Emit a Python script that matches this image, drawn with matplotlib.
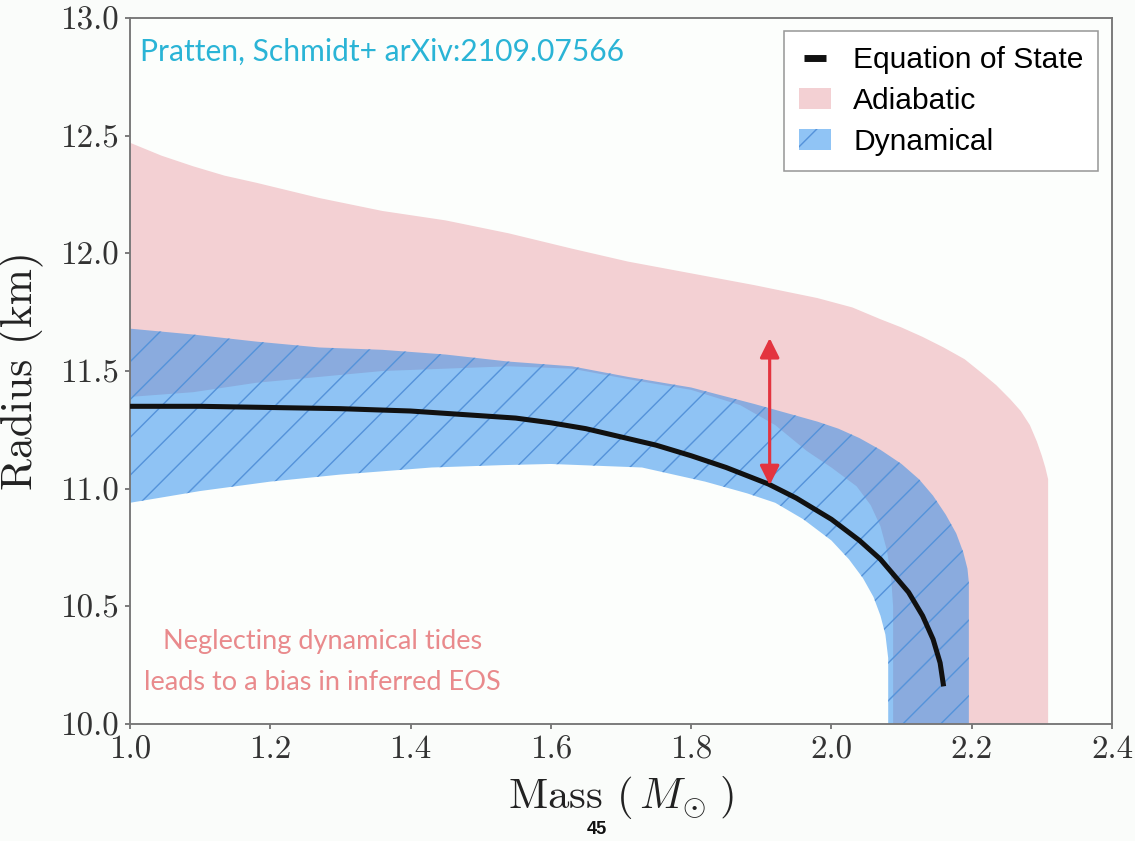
import matplotlib
matplotlib.use("Agg")
import matplotlib.pyplot as plt
from matplotlib.lines import Line2D

plt.rcParams['mathtext.fontset'] = 'cm'
plt.rcParams['axes.formatter.use_mathtext'] = True
plt.rcParams['hatch.linewidth'] = 0.45

# adiabatic band: outer (upper/right) edge and inner (lower/left) edge
adi_out_m = [1.0, 1.045, 1.09, 1.135, 1.18, 1.27, 1.36, 1.45, 1.54, 1.63, 1.71, 1.80, 1.89, 1.98,
             2.03, 2.07, 2.10, 2.13, 2.16, 2.19, 2.215, 2.235, 2.255, 2.27, 2.283, 2.293,
             2.30, 2.305, 2.309, 2.309]
adi_out_r = [12.47, 12.415, 12.37, 12.33, 12.30, 12.235, 12.18, 12.14, 12.085, 12.02, 11.965, 11.915,
             11.865, 11.81, 11.77, 11.72, 11.685, 11.645, 11.60, 11.55, 11.49, 11.44, 11.38, 11.33,
             11.27, 11.20, 11.14, 11.09, 11.04, 9.9]
adi_in_m = [1.0, 1.09, 1.18, 1.27, 1.36, 1.45, 1.54, 1.63, 1.72, 1.80, 1.87, 1.92,
            1.965, 2.0, 2.036, 2.056, 2.07, 2.079, 2.085, 2.088, 2.088]
adi_in_r = [11.39, 11.41, 11.45, 11.475, 11.50, 11.51, 11.52, 11.51, 11.46, 11.42, 11.355, 11.27,
            11.16, 11.09, 11.01, 10.93, 10.84, 10.74, 10.63, 10.50, 9.9]

# dynamical band
dyn_out_m = [1.0, 1.09, 1.18, 1.27, 1.36, 1.45, 1.54, 1.63, 1.71, 1.80, 1.89, 1.98,
             2.01, 2.04, 2.07, 2.10, 2.125, 2.145, 2.163, 2.178, 2.188, 2.194, 2.196, 2.196]
dyn_out_r = [11.68, 11.655, 11.625, 11.60, 11.59, 11.57, 11.54, 11.52, 11.475, 11.43, 11.36, 11.285,
             11.255, 11.215, 11.165, 11.105, 11.04, 10.97, 10.89, 10.81, 10.73, 10.66, 10.60, 9.9]
dyn_in_m = [1.0, 1.1, 1.2, 1.3, 1.43, 1.53, 1.6, 1.73, 1.82, 1.88, 1.92, 1.96, 2.0, 2.025,
            2.045, 2.06, 2.07, 2.077, 2.081, 2.081]
dyn_in_r = [10.94, 10.99, 11.03, 11.06, 11.09, 11.10, 11.105, 11.09, 11.03, 10.98, 10.94, 10.87,
            10.78, 10.70, 10.62, 10.54, 10.46, 10.38, 10.28, 9.9]

# equation of state curve
eos_m = [1.0, 1.1, 1.2, 1.3, 1.4, 1.5, 1.55, 1.6, 1.65, 1.7, 1.75, 1.8, 1.85, 1.91, 1.95, 2.0,
         2.04, 2.07, 2.09, 2.11, 2.13, 2.145, 2.155, 2.16]
eos_r = [11.35, 11.35, 11.345, 11.34, 11.33, 11.31, 11.30, 11.28, 11.255, 11.22, 11.185, 11.14,
         11.09, 11.02, 10.96, 10.87, 10.78, 10.70, 10.63, 10.56, 10.46, 10.36, 10.26, 10.16]

# bias arrow
arrow_m = 1.912
arrow_r = (11.015, 11.64)

xticks = [1.0, 1.2, 1.4, 1.6, 1.8, 2.0, 2.2, 2.4]
yticks = [10.0, 10.5, 11.0, 11.5, 12.0, 12.5, 13.0]

bg = '#fafcfa'
fig = plt.figure(figsize=(5.0, 841 / 227), dpi=227, facecolor=bg)
ax = fig.add_axes([0.1145, 0.1391, 0.8652, 0.8395], facecolor='#fcfefc')

ax.fill(adi_out_m + adi_in_m[::-1], adi_out_r + adi_in_r[::-1],
        facecolor='#f3d0d3', edgecolor='none', label='Adiabatic', zorder=1)
ax.fill(dyn_out_m + dyn_in_m[::-1], dyn_out_r + dyn_in_r[::-1],
        facecolor=(0.08, 0.51, 0.92, 0.47), edgecolor='#5593da', linewidth=0,
        hatch='//', label='Dynamical', zorder=2)
ax.plot(eos_m, eos_r, color='#111111', lw=1.6, zorder=3, solid_capstyle='butt')

ax.annotate('', xy=(arrow_m, arrow_r[1]), xytext=(arrow_m, arrow_r[0]),
            arrowprops=dict(arrowstyle='<|-|>', color='#e3343f', lw=1.0,
                            mutation_scale=13, shrinkA=0, shrinkB=0), zorder=4)

ax.set_xlim(1.0, 2.4)
ax.set_ylim(10.0, 13.0)
ax.set_xticks(xticks)
ax.set_yticks(yticks)
ax.set_xticklabels([f'{v:.1f}' for v in xticks])
ax.set_yticklabels([f'{v:.1f}' for v in yticks])
for lab in ax.get_xticklabels() + ax.get_yticklabels():
    lab.set_fontfamily('cmr10')
    lab.set_fontsize(10.5)
    lab.set_color('#333333')
ax.tick_params(direction='out', length=1.6, width=0.6, color='#777777', pad=2)
for sp in ax.spines.values():
    sp.set_color('#777777')
    sp.set_linewidth(0.6)

ax.set_xlabel(r'Mass ($\,M_{\!\odot}\,$)', fontfamily='cmr10', fontsize=13.6, color='#222222', labelpad=3)
ax.set_ylabel('Radius (km)', fontfamily='cmr10', fontsize=13.8, color='#222222', labelpad=5)

handles = [Line2D([], [], color='#111111', marker='_', linestyle='none', markersize=7, mew=2.2),
           *ax.get_legend_handles_labels()[0]]
labels = ['Equation of State', 'Adiabatic', 'Dynamical']
leg = ax.legend(handles, labels, loc='upper right', fancybox=False, framealpha=1,
                edgecolor='#999999', borderaxespad=0.45, borderpad=0.5,
                prop={'family': 'Liberation Sans', 'size': 9.5},
                handlelength=1.05, handletextpad=0.75, labelspacing=0.42)
leg.get_frame().set_linewidth(0.5)

ax.text(0.01, 0.952, 'Pratten, Schmidt+ arXiv:2109.07566', transform=ax.transAxes,
        fontfamily='Lato', fontsize=9.5, color='#2ab4d6', va='center', ha='left')
ax.text(0.196, 0.088, 'Neglecting dynamical tides\nleads to a bias in inferred EOS',
        transform=ax.transAxes, fontfamily='Lato', fontsize=8.6, color='#e98a8c',
        ha='center', va='center', linespacing=1.8)

fig.text(597 / 1135, 1 - 830 / 841, '45', fontfamily='Liberation Sans', fontweight='bold',
         fontsize=5.8, ha='center', va='center', color='#111111')

fig.savefig('out.png', dpi=227, facecolor=bg)
